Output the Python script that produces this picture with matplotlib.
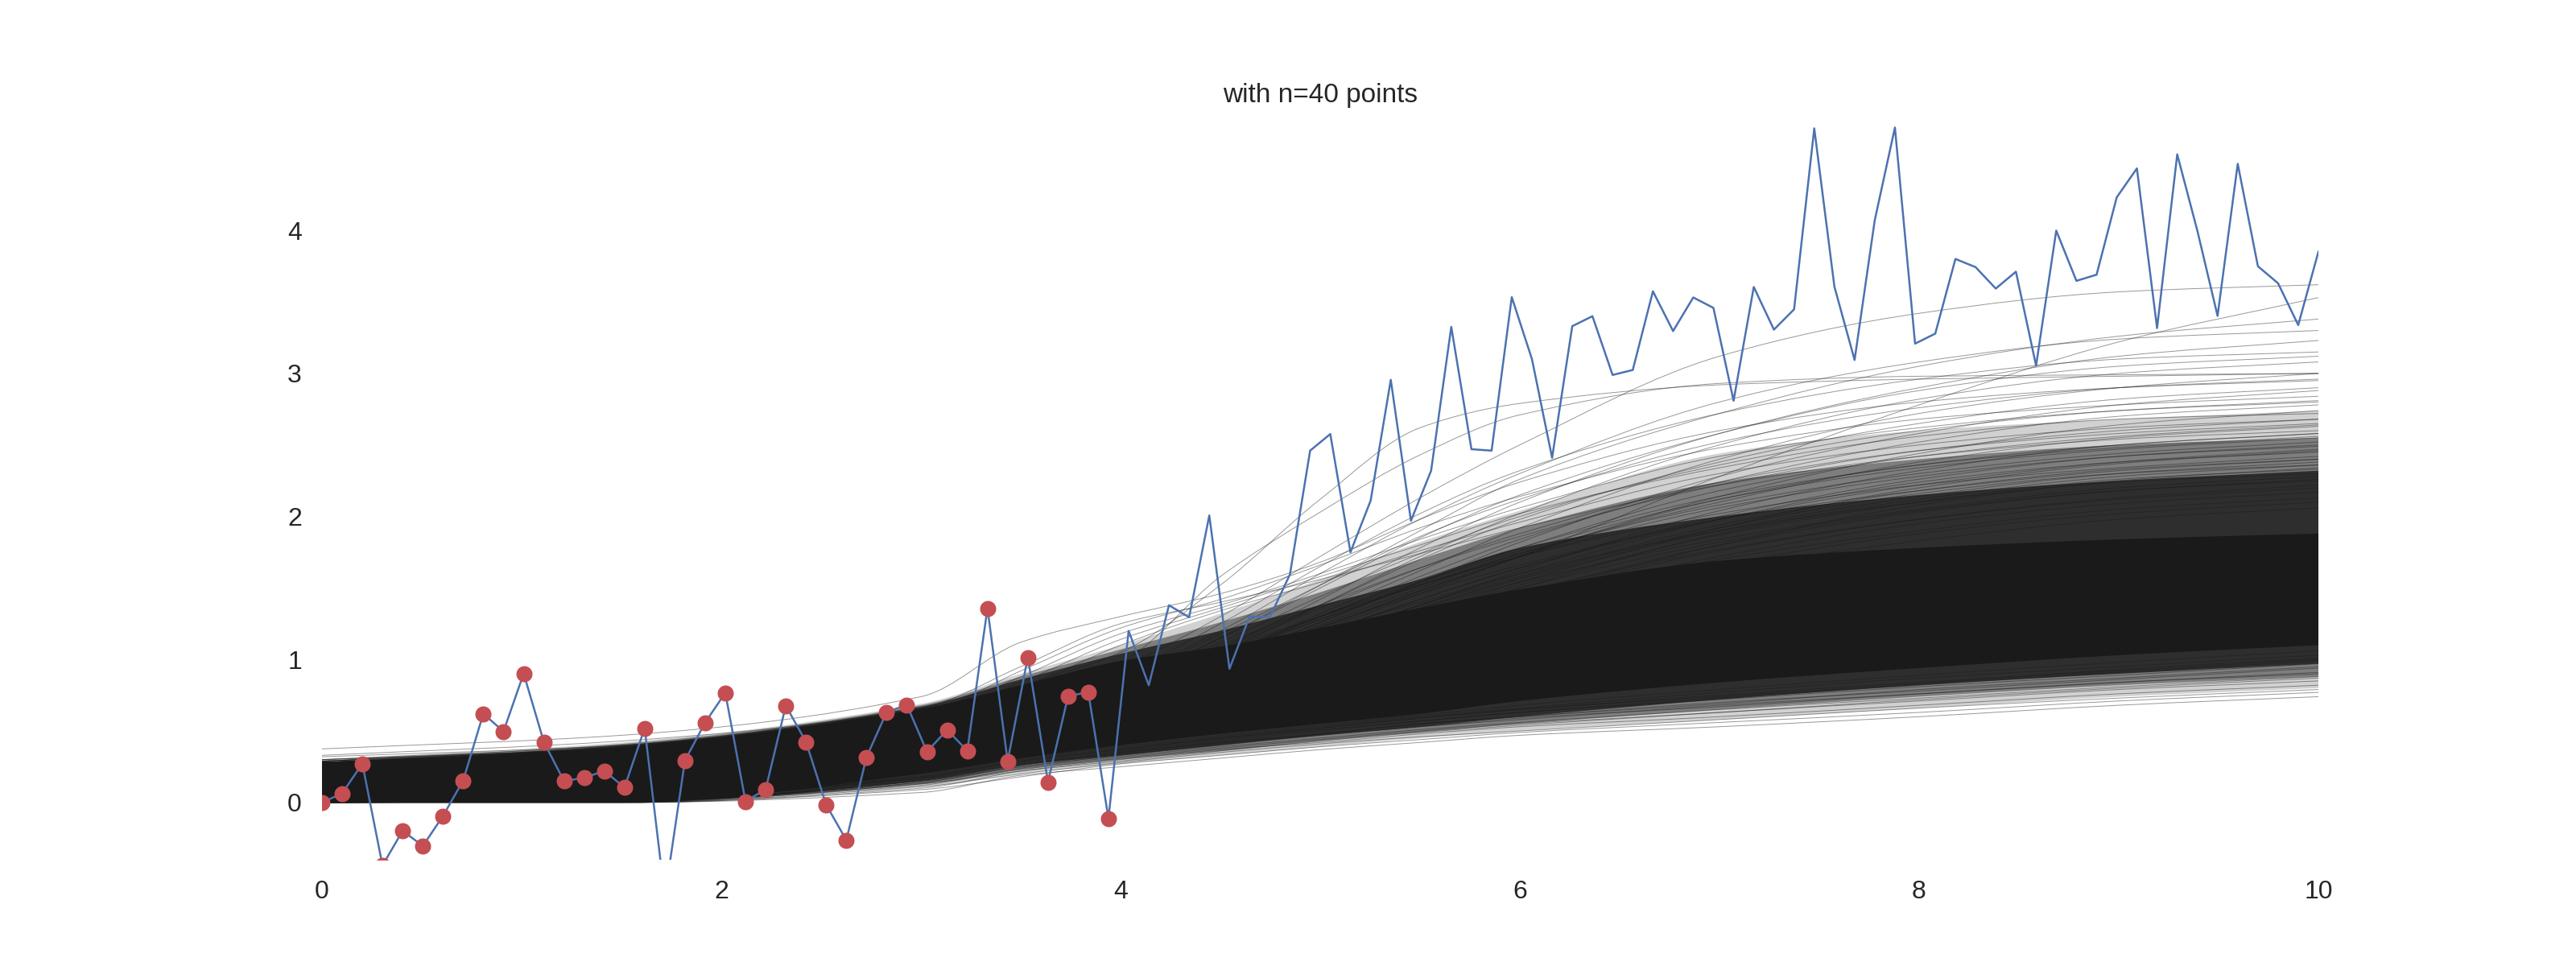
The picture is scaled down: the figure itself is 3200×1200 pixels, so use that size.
import numpy as np
import matplotlib
matplotlib.use('Agg')
import matplotlib.pyplot as plt
from matplotlib.path import Path
from matplotlib.patches import PathPatch

plt.rcParams['font.family'] = ['Liberation Sans', 'DejaVu Sans']

# observed function on 100 grid points, the first 40 are shown as red samples
y_full = [0.00, 0.064, 0.272, -0.44, -0.197, -0.304, -0.094, 0.154, 0.621, 0.497,
          0.902, 0.424, 0.15, 0.173, 0.221, 0.105, 0.52, -0.66, 0.295, 0.559,
          0.767, 0.008, 0.092, 0.677, 0.424, -0.015, -0.263, 0.317, 0.632, 0.683,
          0.355, 0.508, 0.362, 1.358, 0.289, 1.015, 0.143, 0.745, 0.771, -0.111,
          1.20, 0.82, 1.379, 1.295, 2.007, 0.935, 1.302, 1.295, 1.595, 2.46,
          2.576, 1.75, 2.11, 2.955, 1.97, 2.32, 3.325, 2.47, 2.46, 3.533,
          3.10, 2.41, 3.33, 3.40, 2.989, 3.024, 3.574, 3.296, 3.531, 3.458,
          2.809, 3.604, 3.306, 3.448, 4.713, 3.606, 3.094, 4.071, 4.719, 3.208,
          3.278, 3.80, 3.743, 3.593, 3.711, 3.054, 3.998, 3.647, 3.690, 4.231,
          4.433, 3.317, 4.531, 3.996, 3.402, 4.465, 3.749, 3.630, 3.338, 3.85]
n_samples = 40

x_knots = [0, 1.5, 3, 3.5, 4, 4.5, 5, 5.5, 6, 7, 8, 9, 10]

# posterior traces above the dense part
upper_traces = [
    [.375, .47, .74, 1.12, 1.30, 1.46, 1.68, 1.98, 2.24, 2.60, 2.80, 2.90, 2.95],
    [.33, .43, .66, .95, 1.25, 1.40, 1.56, 1.74, 1.92, 2.22, 2.42, 2.54, 2.60],
    [.30, .40, .62, .92, 1.22, 1.42, 1.66, 1.92, 2.14, 2.48, 2.68, 2.78, 2.84],
    [.29, .39, .60, .88, 1.18, 1.38, 1.60, 1.84, 2.06, 2.42, 2.62, 2.74, 2.80],
    [.29, .38, .58, .84, 1.14, 1.36, 1.58, 1.80, 2.02, 2.34, 2.56, 2.68, 2.72],
    [.28, .37, .60, .80, 1.10, 1.34, 1.54, 1.76, 1.96, 2.30, 2.50, 2.62, 2.68],
    [.30, .38, .58, .74, .95, 1.30, 1.72, 2.13, 2.50, 3.12, 3.42, 3.57, 3.62],
    [.28, .35, .52, .64, .78, .98, 1.22, 1.48, 1.72, 2.28, 2.78, 3.22, 3.53],
    [.32, .40, .62, .82, 1.05, 1.52, 2.12, 2.62, 2.79, 2.92, 2.96, 2.98, 3.00],
    [.30, .38, .58, .76, .98, 1.58, 2.03, 2.43, 2.71, 2.93, 2.98, 2.99, 3.00],
    [.28, .35, .50, .64, .82, 1.15, 1.52, 1.90, 2.26, 2.72, 3.05, 3.26, 3.38],
    [.29, .37, .54, .69, .88, 1.20, 1.60, 1.98, 2.30, 2.80, 3.08, 3.24, 3.30],
    [.27, .34, .50, .63, .80, 1.08, 1.42, 1.78, 2.10, 2.58, 2.90, 3.12, 3.23],
    [.29, .36, .54, .70, .90, 1.25, 1.65, 2.02, 2.32, 2.72, 2.96, 3.10, 3.15],
    [.28, .35, .52, .67, .85, 1.15, 1.50, 1.85, 2.15, 2.58, 2.88, 3.05, 3.12],
    [.27, .34, .50, .62, .78, 1.05, 1.38, 1.72, 2.02, 2.50, 2.82, 3.00, 3.08],
    [.26, .33, .49, .60, .76, 1.02, 1.32, 1.62, 1.92, 2.40, 2.72, 2.90, 3.00],
    [.28, .36, .53, .68, .86, 1.18, 1.52, 1.86, 2.12, 2.52, 2.76, 2.90, 2.96],
    [.27, .34, .50, .63, .80, 1.08, 1.38, 1.70, 1.98, 2.38, 2.65, 2.82, 2.90],
    [.26, .33, .48, .59, .74, .98, 1.26, 1.54, 1.82, 2.28, 2.58, 2.78, 2.88],
    [.28, .35, .52, .66, .84, 1.12, 1.44, 1.74, 2.00, 2.36, 2.60, 2.74, 2.81],
    [.27, .34, .50, .62, .78, 1.02, 1.30, 1.58, 1.84, 2.24, 2.52, 2.70, 2.78],
    [.26, .33, .48, .58, .72, .94, 1.20, 1.46, 1.72, 2.14, 2.44, 2.64, 2.74],
    [.28, .36, .53, .66, .84, 1.10, 1.38, 1.64, 1.86, 2.22, 2.46, 2.60, 2.68],
    [.28, .35, .52, .65, .82, 1.07, 1.36, 1.64, 1.88, 2.24, 2.46, 2.58, 2.65],
    [.26, .34, .49, .60, .75, .98, 1.26, 1.54, 1.78, 2.18, 2.42, 2.56, 2.64],
    [.27, .34, .50, .61, .76, .98, 1.24, 1.50, 1.74, 2.10, 2.38, 2.55, 2.63],
    [.26, .33, .47, .57, .70, .90, 1.14, 1.38, 1.62, 2.04, 2.32, 2.50, 2.58],
    [.27, .35, .51, .63, .79, 1.03, 1.30, 1.56, 1.78, 2.14, 2.36, 2.50, 2.58],
    [.27, .34, .49, .60, .75, .96, 1.22, 1.48, 1.72, 2.12, 2.36, 2.48, 2.56],
    [.28, .35, .51, .64, .80, 1.04, 1.30, 1.54, 1.76, 2.12, 2.34, 2.47, 2.55],
    [.27, .35, .51, .63, .80, 1.02, 1.28, 1.52, 1.74, 2.08, 2.30, 2.44, 2.52],
    [.27, .35, .50, .61, .76, .96, 1.18, 1.42, 1.64, 2.00, 2.26, 2.42, 2.50],
    [.28, .36, .52, .64, .81, 1.03, 1.28, 1.52, 1.72, 2.06, 2.28, 2.42, 2.49],
    [.26, .34, .49, .60, .75, .95, 1.18, 1.42, 1.64, 1.98, 2.22, 2.38, 2.47],
    [.26, .33, .47, .57, .70, .88, 1.10, 1.32, 1.54, 1.92, 2.20, 2.37, 2.46],
    [.26, .33, .47, .57, .71, .90, 1.14, 1.38, 1.60, 1.98, 2.24, 2.38, 2.45],
    [.28, .36, .52, .65, .82, 1.06, 1.30, 1.52, 1.72, 2.02, 2.22, 2.34, 2.42],
    [.27, .34, .49, .60, .74, .93, 1.15, 1.38, 1.58, 1.94, 2.18, 2.33, 2.40],
    [.28, .36, .52, .64, .80, 1.00, 1.23, 1.46, 1.66, 1.98, 2.18, 2.32, 2.40],
    [.27, .34, .49, .60, .74, .94, 1.14, 1.36, 1.56, 1.90, 2.14, 2.30, 2.38],
    [.27, .35, .50, .61, .76, .93, 1.14, 1.36, 1.57, 1.92, 2.16, 2.30, 2.36],
    [.26, .33, .47, .57, .70, .87, 1.08, 1.30, 1.50, 1.88, 2.12, 2.28, 2.36],
    [.26, .33, .46, .56, .68, .84, 1.04, 1.24, 1.44, 1.80, 2.08, 2.25, 2.34],
    [.27, .34, .49, .59, .73, .90, 1.10, 1.31, 1.52, 1.87, 2.10, 2.26, 2.33],
    [.27, .35, .50, .62, .78, .98, 1.20, 1.40, 1.60, 1.90, 2.10, 2.24, 2.30],
    [.28, .36, .51, .62, .77, .95, 1.15, 1.35, 1.54, 1.84, 2.05, 2.20, 2.28],
    [.26, .34, .48, .59, .72, .90, 1.10, 1.30, 1.50, 1.82, 2.04, 2.18, 2.26],
    [.26, .34, .48, .58, .71, .87, 1.06, 1.26, 1.46, 1.80, 2.03, 2.18, 2.25],
    [.27, .33, .47, .57, .70, .86, 1.06, 1.26, 1.44, 1.76, 1.98, 2.13, 2.22],
    [.27, .35, .50, .61, .75, .91, 1.09, 1.28, 1.47, 1.77, 1.98, 2.12, 2.20],
    [.27, .34, .48, .59, .72, .87, 1.04, 1.23, 1.41, 1.72, 1.95, 2.09, 2.17],
    [.27, .35, .49, .60, .74, .89, 1.05, 1.23, 1.41, 1.70, 1.90, 2.05, 2.13],
    [.26, .34, .47, .57, .70, .84, 1.00, 1.18, 1.35, 1.66, 1.88, 2.02, 2.10],
    [.27, .35, .49, .60, .73, .87, 1.02, 1.19, 1.35, 1.63, 1.83, 1.98, 2.06],
]

# posterior traces below the dense part
lower_traces = [
    [0, 0, .07, .19, .25, .31, .37, .42, .47, .53, .60, .68, .74],
    [0, 0, .09, .18, .27, .33, .39, .44, .49, .56, .63, .71, .77],
    [0, 0, .11, .20, .28, .35, .41, .46, .50, .58, .66, .73, .79],
    [0, 0, .10, .22, .30, .37, .42, .48, .53, .60, .68, .76, .82],
    [0, 0, .13, .22, .29, .36, .43, .49, .54, .63, .71, .79, .85],
    [0, .01, .13, .23, .31, .38, .44, .50, .55, .63, .72, .80, .87],
    [0, .01, .12, .24, .32, .39, .45, .51, .56, .65, .73, .81, .88],
    [0, .01, .15, .25, .33, .41, .47, .53, .59, .67, .76, .84, .90],
    [0, .01, .14, .25, .33, .40, .47, .53, .58, .68, .76, .84, .91],
    [0, .01, .15, .26, .34, .42, .48, .55, .60, .70, .78, .86, .94],
    [0, .01, .14, .26, .35, .42, .48, .55, .60, .69, .79, .87, .95],
    [0, .01, .16, .27, .35, .43, .50, .57, .63, .72, .81, .89, .97],
    [0, .02, .17, .28, .36, .44, .51, .57, .63, .73, .82, .91, .99],
    [0, .02, .17, .29, .37, .45, .52, .59, .65, .75, .84, .92, 1.00],
    [0, .02, .18, .29, .37, .45, .52, .59, .65, .74, .83, .93, 1.01],
    [0, .02, .18, .30, .38, .46, .53, .60, .66, .77, .87, .95, 1.03],
    [0, .02, .19, .31, .39, .47, .54, .61, .68, .79, .89, .98, 1.06],
]

# edges of the dense part: solid core, then levels of thinning streaks
core_top = [.27, .39, .655, .82, .99, 1.09, 1.22, 1.36, 1.49, 1.69, 1.78, 1.84, 1.88]
core_bottom = [0, 0, .20, .31, .40, .48, .55, .62, .71, .84, .94, 1.03, 1.10]
mid_top = [.28, .40, .67, .86, 1.04, 1.20, 1.38, 1.56, 1.78, 2.00, 2.15, 2.25, 2.32]
mid_bottom = [0, 0, .15, .26, .33, .40, .47, .53, .60, .72, .82, .90, .97]
soft_top = [.29, .41, .68, .88, 1.07, 1.26, 1.47, 1.70, 1.92, 2.24, 2.40, 2.50, 2.55]
soft_bottom = [0, 0, .13, .23, .30, .36, .43, .49, .55, .65, .74, .82, .88]
outer_top = [.30, .42, .69, .90, 1.10, 1.32, 1.56, 1.82, 2.04, 2.44, 2.60, 2.68, 2.74]
outer_bottom = [0, 0, .11, .20, .27, .33, .39, .45, .50, .58, .66, .74, .80]

x_full = np.linspace(0, 10, 100)
trace_color = '#1a1a1a'


def smooth_path(xs, ys):
    # bezier segments through the read-off values, without overshoot
    xs = np.asarray(xs, dtype=float)
    ys = np.asarray(ys, dtype=float)
    slopes = np.diff(ys) / np.diff(xs)
    m = np.zeros(len(xs))
    m[0] = slopes[0]
    m[-1] = slopes[-1]
    for i in range(1, len(xs) - 1):
        if slopes[i - 1] * slopes[i] > 0:
            m[i] = 2 * slopes[i - 1] * slopes[i] / (slopes[i - 1] + slopes[i])
    verts = [(xs[0], ys[0])]
    for i in range(len(xs) - 1):
        dx = xs[i + 1] - xs[i]
        verts.append((xs[i] + dx / 3, ys[i] + m[i] * dx / 3))
        verts.append((xs[i + 1] - dx / 3, ys[i + 1] - m[i + 1] * dx / 3))
        verts.append((xs[i + 1], ys[i + 1]))
    return verts


def add_band(ax, bottom, top, alpha):
    upper = smooth_path(x_knots, top)
    lower = smooth_path(x_knots[::-1], bottom[::-1])
    verts = upper + lower + [upper[0]]
    codes = ([Path.MOVETO] + [Path.CURVE4] * (len(upper) - 1)
             + [Path.LINETO] + [Path.CURVE4] * (len(lower) - 1) + [Path.CLOSEPOLY])
    ax.add_patch(PathPatch(Path(verts, codes), fc=trace_color, ec='none', alpha=alpha, zorder=1))


fig, ax = plt.subplots(figsize=(16, 6), dpi=200)

add_band(ax, outer_bottom, outer_top, 0.2)
add_band(ax, soft_bottom, soft_top, 0.45)
add_band(ax, mid_bottom, mid_top, 0.8)
add_band(ax, core_bottom, core_top, 1)

for trace in upper_traces + lower_traces:
    verts = smooth_path(x_knots, trace)
    codes = [Path.MOVETO] + [Path.CURVE4] * (len(verts) - 1)
    ax.add_patch(PathPatch(Path(verts, codes), fc='none', ec=trace_color, alpha=0.45,
                           lw=0.35, zorder=2))

ax.plot(x_full, y_full, color='#4c72b0', lw=0.9, zorder=3)
ax.plot(x_full[:n_samples], y_full[:n_samples], 'o', color='#c44e52',
        ms=7.2, mew=0, zorder=4)

ax.set_xlim(0, 10)
ax.set_ylim(-0.4, 4.8)
ax.set_xticks([0, 2, 4, 6, 8, 10])
ax.set_yticks([0, 1, 2, 3, 4])
ax.tick_params(length=0, labelsize=11.5, labelcolor='#262626', pad=9)
for spine in ax.spines.values():
    spine.set_visible(False)
ax.set_title('with n=40 points', fontsize=12, color='#262626')

plt.savefig('out.png')
